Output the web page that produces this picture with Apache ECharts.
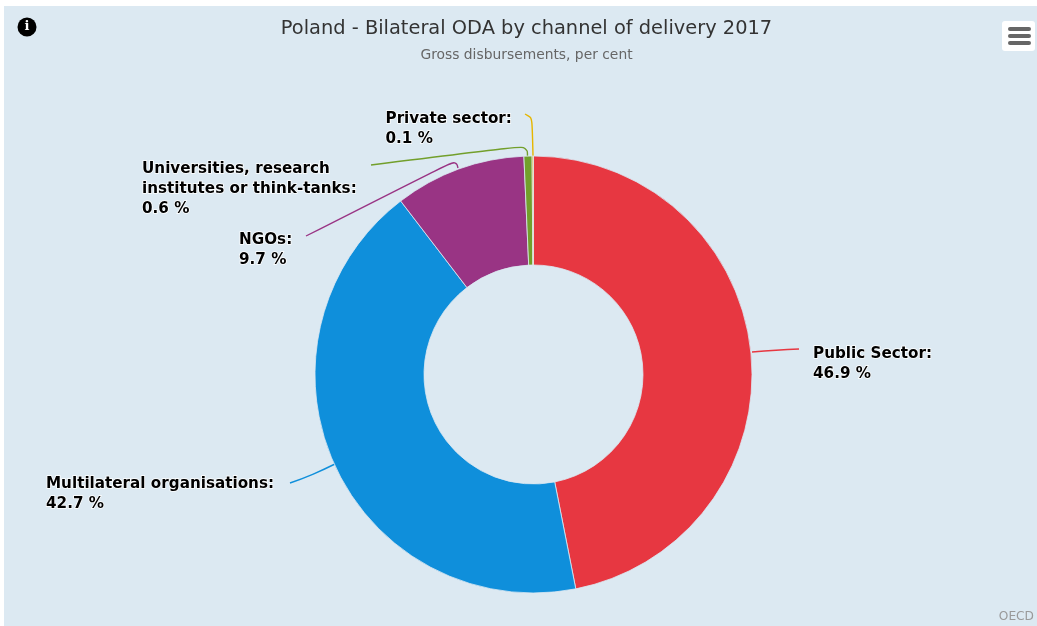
<!DOCTYPE html>
<html>
<head>
<meta charset="utf-8">
<title>Poland - Bilateral ODA by channel of delivery 2017</title>
<script src="https://cdn.jsdelivr.net/npm/echarts@6/dist/echarts.min.js"></script>
<style>
  html, body { margin: 0; padding: 0; background: #ffffff; }
  #chart { width: 1037px; height: 626px; }
</style>
</head>
<body>
<div id="chart"></div>
<script>
// Share of gross bilateral disbursements by delivery channel, clockwise from 12 o'clock
const channels = ['Public Sector', 'Multilateral organisations', 'NGOs', 'Universities, research\ninstitutes or think-tanks', 'Private sector'];
const shares = [46.9, 42.7, 9.7, 0.6, 0.1];
const sliceColors = ['#e73741', '#0f8fdb', '#993484', '#729f2b', '#e6b600'];

// Where each callout label sits and how its leader line runs to the ring
const labelAnchors = [[813, 344], [46, 474.5], [239, 230], [142, 159.5], [385.5, 109]];
const leaderPaths = [
  [[752, 352], [776, 350], [799, 349]],
  [[335, 464], [313, 475], [290, 483]],
  [[458, 168], [456, 160], [306, 236]],
  [[527.5, 156], [527.5, 145.5], [371, 165]],
  [[533, 156], [532, 110], [525, 114]]
];
const leaderCurve = [0.5, 0.5, 0.5, 0.5, 1];

const PANEL = '#dce9f2';
const chart = echarts.init(document.getElementById('chart'), null, { renderer: 'canvas' });
const FONT = '"DejaVu Sans", Verdana, sans-serif';

chart.setOption({
  backgroundColor: '#ffffff',
  animation: false,
  title: {
    text: 'Poland - Bilateral ODA by channel of delivery 2017',
    subtext: 'Gross disbursements, per cent',
    left: 521.5, top: 12, textAlign: 'center', itemGap: 6,
    textStyle: { fontFamily: FONT, fontSize: 19.4, fontWeight: 'normal', color: '#333333', lineHeight: 24 },
    subtextStyle: { fontFamily: FONT, fontSize: 13.85, color: '#666666', lineHeight: 16 }
  },
  graphic: {
    z: 0,
    elements: [
      { type: 'rect', silent: true, shape: { x: 4, y: 6, width: 1033, height: 620 }, style: { fill: PANEL } },
      // info badge
      { type: 'circle', silent: true, shape: { cx: 27, cy: 27, r: 9.5 }, style: { fill: '#000000' } },
      { type: 'text', silent: true, x: 27, y: 27, style: { text: 'i', fill: '#ffffff', font: 'bold 13px "DejaVu Serif", serif', align: 'center', verticalAlign: 'middle' } },
      // menu button
      { type: 'rect', silent: true, shape: { x: 1002, y: 21, width: 33, height: 30, r: 3 }, style: { fill: '#ffffff' } },
      { type: 'rect', silent: true, shape: { x: 1008, y: 27, width: 23, height: 4, r: 2 }, style: { fill: '#666666' } },
      { type: 'rect', silent: true, shape: { x: 1008, y: 34, width: 23, height: 4, r: 2 }, style: { fill: '#666666' } },
      { type: 'rect', silent: true, shape: { x: 1008, y: 41, width: 23, height: 4, r: 2 }, style: { fill: '#666666' } },
      // credit
      { type: 'text', silent: true, x: 1034, y: 617, style: { text: 'OECD', fill: '#999999', font: '12.2px ' + FONT, align: 'right', verticalAlign: 'middle' } }
    ]
  },
  series: [{
    type: 'pie',
    center: [533.5, 374.5],
    radius: [109.5, 218.5],
    startAngle: 90,
    clockwise: true,
    avoidLabelOverlap: false,
    silent: true,
    itemStyle: { borderColor: PANEL, borderWidth: 0.8 },
    data: channels.map((name, i) => ({
      name,
      value: shares[i],
      itemStyle: { color: sliceColors[i] },
      labelLine: { smooth: leaderCurve[i], lineStyle: { color: sliceColors[i], width: 1.4 } }
    })),
    label: {
      show: true,
      formatter: p => `${p.name}:\n${p.value} %`,
      fontFamily: FONT,
      fontSize: 15.2,
      fontWeight: 'bold',
      lineHeight: 19.8,
      color: '#000000',
      textBorderColor: '#ffffff',
      textBorderWidth: 1.5
    },
    labelLine: { show: true },
    labelLayout: params => ({
      x: labelAnchors[params.dataIndex][0],
      y: labelAnchors[params.dataIndex][1],
      align: 'left',
      verticalAlign: 'top',
      labelLinePoints: leaderPaths[params.dataIndex]
    })
  }]
});
</script>
</body>
</html>
